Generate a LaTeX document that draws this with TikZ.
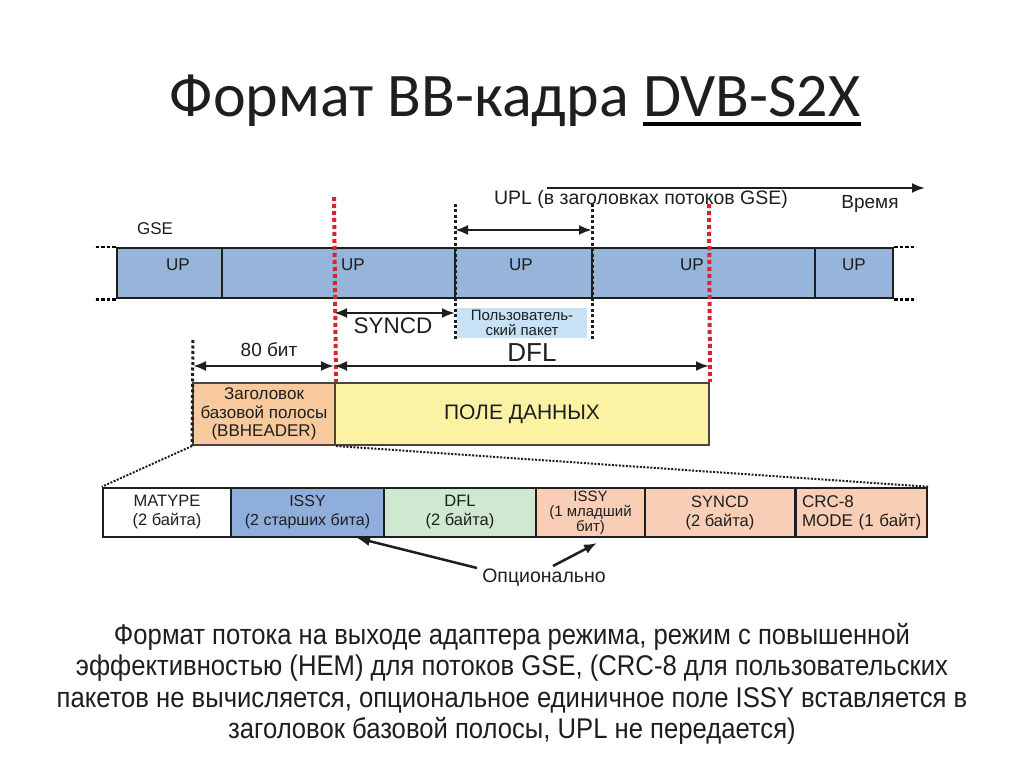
\documentclass[tikz,border=0pt]{standalone}
\usepackage{fontspec}
\setmainfont{Liberation Sans}
\newfontfamily\titlefont{Carlito}
\newfontfamily\narrowfont[FakeStretch=0.9]{Liberation Sans}
\usetikzlibrary{arrows.meta,calc,positioning}
\definecolor{temnyy}{HTML}{1E1E1E}
\definecolor{olivkovyy}{HTML}{4A4536}
\definecolor{siniy}{HTML}{97B4DA}
\definecolor{goluboy}{HTML}{C6E2F4}
\definecolor{oranzhevyy}{HTML}{F8C99C}
\definecolor{zheltyy}{HTML}{FBF3A3}
\definecolor{siniyIssy}{HTML}{8FAEDC}
\definecolor{zelenyy}{HTML}{CFE8D0}
\definecolor{lososevyy}{HTML}{F9CEB6}
\definecolor{krasnyy}{HTML}{D9232E}

\begin{document}
\begin{tikzpicture}[x=1pt,y=-1pt,
  every node/.style={inner sep=0pt,text=temnyy},
  gseyach/.style={draw=temnyy,fill=siniy,line width=2.5pt,minimum height=50pt},
  polyach/.style={draw=temnyy,line width=2.5pt,minimum height=49pt,align=center,font=\fontsize{16.5}{19}\selectfont},
  uptxt/.style={font=\fontsize{17}{18}\selectfont},
  raz/.style={line width=2.5pt,dash pattern=on 3.5pt off 2pt},
  krasn/.style={draw=krasnyy,line width=4pt,dash pattern=on 4pt off 3pt},
  chern/.style={draw=temnyy,line width=3pt,dash pattern=on 3pt off 2.5pt},
  proek/.style={draw=temnyy,line width=2pt,dash pattern=on 2pt off 1.5pt},
  razmer/.style={draw=temnyy,line width=2.5pt,{Latex[length=13pt,width=10pt]}-{Latex[length=13pt,width=10pt]}},
  strel/.style={draw=temnyy,line width=2.5pt,-{Latex[length=13pt,width=10pt]}}]
\useasboundingbox (0,0) rectangle (1024,767);

% zagolovok
\node[font=\titlefont\fontsize{62}{66}\selectfont,anchor=base east] (ttl) at (629,117) {Формат BB-кадра};
\node[font=\titlefont\fontsize{62}{66}\selectfont,anchor=base west] (ttl2) at (643,117) {DVB-S2X};
\draw[line width=3.5pt] ($(ttl2.base west)+(0,7)$) -- ($(ttl2.base east)+(0,7)$);

% vremya
\coordinate (vr1) at (547,188);
\coordinate (vr2) at (925,188);
\draw[strel] (vr1) -- (vr2);
\node[font=\fontsize{19}{20}\selectfont] (vrt) at (870,204) {Время};
\node[font=\fontsize{19.5}{20}\selectfont] (uplt) at (641,199) {UPL (в заголовках потоков GSE)};
\node[font=\fontsize{17}{18}\selectfont] (gset) at (155,229) {GSE};

% potok GSE
\foreach \nm/\cx/\w in {u1/169.5/105, u2/338.5/233, u3/523.5/137, u4/703.5/223, u5/854/78}
  \node[gseyach,minimum width=\w] (\nm) at (\cx,273) {};
\foreach \x [count=\i] in {178,353,521,692,854}
  \node[uptxt] (up\i) at (\x,265) {UP};
\draw[raz] (u1.north west) -- ++(-22,0);
\draw[raz] (u1.south west) -- ++(-22,0);
\draw[raz] (u5.north east) -- ++(22,0);
\draw[raz] (u5.south east) -- ++(22,0);

% zagolovok BB i pole dannykh
\node[draw=olivkovyy,fill=oranzhevyy,line width=2pt,minimum width=142,minimum height=62,align=center,font=\fontsize{17}{18.5}\selectfont] (hdr) at (264,414) {Заголовок\\базовой полосы\\(BBHEADER)};
\node[draw=olivkovyy,fill=zheltyy,line width=2pt,minimum width=374,minimum height=62,font=\fontsize{21}{22}\selectfont] (pole) at (522,414) {ПОЛЕ ДАННЫХ};
\node[fill=goluboy,minimum width=130,minimum height=30,align=center,font=\fontsize{15}{15}\selectfont] (pak) at (522,323) {Пользователь-\\ский пакет};

% granitsy
\coordinate (k1) at (334,197);
\coordinate (k2) at (709,204);
\draw[krasn] (k1) -- (hdr.north east);
\draw[krasn] (k2) -- (pole.north east);
\coordinate (c1t) at (455,204); \coordinate (c1b) at (455,340);
\coordinate (c2t) at (592,204); \coordinate (c2b) at (592,340);
\coordinate (c3t) at (193,340);
\draw[chern] (c1t) -- (c1b);
\draw[chern] (c2t) -- (c2b);
\draw[chern] (c3t) -- (hdr.south west);

% razmery
\draw[razmer] (455,230) -- (592,230);
\draw[razmer] (334,313) -- (455,313);
\node[font=\fontsize{22.5}{24}\selectfont] (syncdt) at (393,326) {SYNCD};
\draw[razmer] (193,366) -- (334,366);
\node[font=\fontsize{19}{20}\selectfont] (bitt) at (269,350) {80 бит};
\draw[razmer] (334,366) -- (709,366);
\node[font=\fontsize{26}{28}\selectfont] (dflt) at (532,353) {DFL};

% polya zagolovka
\node[polyach,fill=white,minimum width=128] (p1) at (167,512.5) {MATYPE\\(2 байта)};
\node[polyach,fill=siniyIssy,minimum width=153,font=\fontsize{16}{19}\selectfont] (p2) at (307.5,512.5) {ISSY\\(2 старших бита)};
\node[polyach,fill=zelenyy,minimum width=152] (p3) at (460,512.5) {DFL\\(2 байта)};
\node[polyach,fill=lososevyy,minimum width=109,font=\fontsize{15}{15}\selectfont] (p4) at (590.5,512.5) {ISSY\\(1 младший\\бит)};
\node[polyach,fill=lososevyy,minimum width=150] (p5) at (720,512.5) {SYNCD\\(2 байта)};
\node[polyach,fill=lososevyy,minimum width=131,align=left,text width=119,font=\fontsize{17}{19}\selectfont] (p6) at (861.5,512.5) {CRC-8\\\mbox{MODE (1 байт)}};
\draw[proek] (hdr.south west) -- (p1.north west);
\draw[proek] (hdr.south east) -- (p6.north east);

% optsionalno
\node[font=\fontsize{19.5}{20}\selectfont] (opc) at (544,578) {Опционально};
\draw[strel] (477,568) -- (357,538);
\draw[strel] (553,566) -- (597,543);

% podpis
\node[align=center,font=\narrowfont\fontsize{28.5}{31.5}\selectfont] (podp) at (512,684) {Формат потока на выходе адаптера режима, режим с повышенной\\эффективностью (HEM) для потоков GSE, (CRC-8 для пользовательских\\пакетов не вычисляется, опциональное единичное поле ISSY вставляется в\\заголовок базовой полосы, UPL не передается)};
\end{tikzpicture}
\end{document}
